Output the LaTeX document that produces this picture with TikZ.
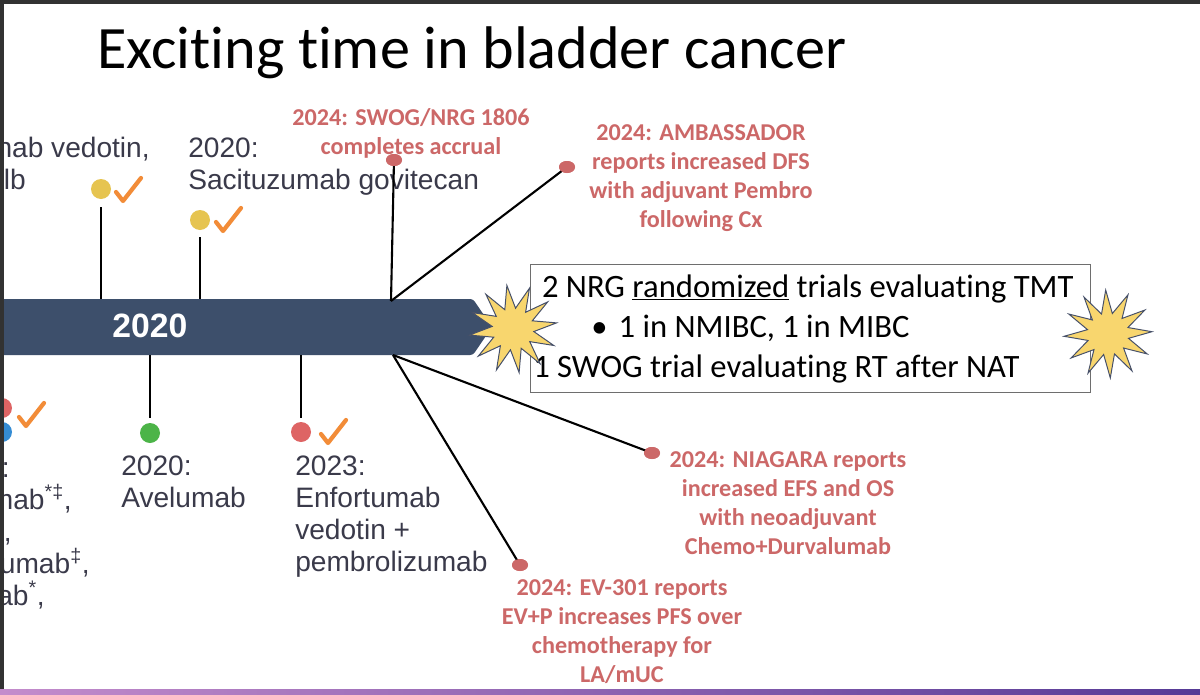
\documentclass[tikz,border=0pt]{standalone}
\usepackage{fontspec}
\setmainfont[Ligatures=NoCommon]{Carlito}
\newfontfamily\tlfont{Liberation Sans}
\usetikzlibrary{shapes.geometric,calc}

\definecolor{barblue}{RGB}{61,79,107}
\definecolor{annored}{RGB}{204,104,104}
\definecolor{tlgray}{RGB}{58,58,74}
\definecolor{dotyellow}{RGB}{230,196,80}
\definecolor{dotgreen}{RGB}{76,180,72}
\definecolor{dotred}{RGB}{222,100,100}
\definecolor{dotblue}{RGB}{52,140,212}
\definecolor{chkorange}{RGB}{242,140,56}
\definecolor{boomyellow}{RGB}{248,214,110}
\definecolor{boomedge}{RGB}{70,80,105}
\definecolor{framegray}{RGB}{50,50,50}
\definecolor{boxgray}{RGB}{110,110,110}

\begin{document}
\begin{tikzpicture}[x=0.25mm, y=-0.25mm,
    tick/.style={line width=1.5pt, black},
    mdot/.style={circle, inner sep=0pt, minimum size=5mm},
    adot/.style={ellipse, fill=annored, inner sep=0pt, minimum width=4mm, minimum height=3mm},
    tltext/.style={font=\tlfont\fontsize{20}{22.6}\selectfont, text=tlgray, align=left, inner sep=0pt},
    anno/.style={font=\bfseries\fontsize{17.2}{20.6}\selectfont, text=annored, align=center, inner sep=0pt},
    boom/.style={star, star points=12, star point ratio=2.1, fill=boomyellow, draw=boomedge, line width=0.7pt, minimum size=22mm, inner sep=0pt},
    chk/.pic={\draw[chkorange, line width=3pt, line cap=round, line join=round] (-12,2) -- (-5,11) -- (13,-12);}
]
\useasboundingbox (0,0) rectangle (1200,695);
\fill[white] (0,0) rectangle (1200,695);

% title
\node[anchor=west, inner sep=0pt, font=\fontsize{42.8}{50}\selectfont] (title) at (97,53) {Exciting time in bladder cancer};

% timeline bar
\fill[barblue, rounded corners=2pt] (0,299) -- (473,299) -- (492,327) -- (473,355) -- (0,355) -- cycle;
\node[font=\tlfont\bfseries\fontsize{24}{26}\selectfont, text=white] (yr) at (150,326) {2020};

% milestones on the bar
\coordinate (b1) at (101,299);
\coordinate (b2) at (200,299);
\coordinate (b3) at (150,355);
\coordinate (b4) at (301,355);
\node[mdot, fill=dotyellow] (d1) at (101,189) {};
\node[mdot, fill=dotyellow] (d2) at (200,220) {};
\node[mdot, fill=dotgreen] (d3) at (150,433) {};
\node[mdot, fill=dotred] (d4) at (301,432) {};
\node[mdot, fill=dotred] (d5) at (2,408) {};
\node[mdot, fill=dotblue] (d6) at (2,432) {};
\draw[tick, shorten >=2mm] (b1) -- (d1);
\draw[tick, shorten >=1.75mm] (b2) -- (d2);
\draw[tick, shorten >=1.25mm] (b3) -- (d3);
\draw[tick, shorten >=1mm] (b4) -- (d4);
\pic at (128,190) {chk};
\pic at (228,220) {chk};
\pic at (333,432) {chk};
\pic at (31,415) {chk};

% drug texts
\node[tltext, anchor=north west] (sacit) at (188,138) {2020:\\Sacituzumab govitecan};
\node[tltext, anchor=north west] (avel) at (121,456) {2020:\\Avelumab};
\node[tltext, anchor=north west] (enfor) at (295,456) {2023:\\Enfortumab\\vedotin +\\pembrolizumab};
\foreach \txt/\xr/\yb [count=\i] in {{nab vedotin,}/150/157, lb/26/189, :/10/477,
    {mab\textsuperscript{*‡},}/72/509, {),}/12/541, {umab\textsuperscript{‡},}/90/573, {ab\textsuperscript{*},}/45/605}
  \node[tltext, anchor=base east] (cut\i) at (\xr,\yb) {\txt};

% trials box
\node[draw=boxgray, line width=0.7pt, minimum width=140mm, minimum height=32mm, inner sep=0pt] (trials) at (810,328) {};
\node[anchor=west, align=left, inner sep=0pt, font=\fontsize{23.2}{28.45}\selectfont] (trialtxt) at (533,329)
  {\hspace{2.2mm}2 NRG \underline{randomized} trials evaluating TMT\\
   \hspace{14.5mm}\textbullet\hspace{2.8mm}1 in NMIBC, 1 in MIBC\\
   1 SWOG trial evaluating RT after NAT};
\node[boom, shape border rotate=8] (boom1) at (513,329) {};
\node[boom, shape border rotate=3] (boom2) at (1108,334) {};

% 2024 updates
\coordinate (hubtop) at (391,301);
\coordinate (hubbot) at (393,355);
\node[adot] (a1dot) at (394,160) {};
\node[adot] (a2dot) at (567,167) {};
\node[adot] (a3dot) at (652,453) {};
\node[adot] (a4dot) at (520,565) {};
\draw[tick] (hubtop) -- (a1dot.center);
\draw[tick] (hubtop) -- (a2dot.center);
\draw[tick] (hubbot) -- (a3dot.center);
\draw[tick] (hubbot) -- (a4dot.center);
\node[adot] at (a1dot) {};
\node[adot] at (a2dot) {};
\node[adot] at (a3dot) {};
\node[adot] at (a4dot) {};
\node[anno, anchor=north] (swog) at (411,108) {2024: SWOG/NRG 1806\\completes accrual};
\node[anno, anchor=north] (ambas) at (701,124) {2024: AMBASSADOR\\reports increased DFS\\with adjuvant Pembro\\following Cx};
\node[anno, anchor=north] (niag) at (788,451) {2024: NIAGARA reports\\increased EFS and OS\\with neoadjuvant\\Chemo+Durvalumab};
\node[anno, anchor=north] (ev301) at (622,579) {2024: EV-301 reports\\EV+P increases PFS over\\chemotherapy for\\LA/mUC};

% slide frame
\fill[framegray] (0,0) rectangle (1200,4);
\fill[framegray] (0,0) rectangle (4,689);
\shade[left color={rgb,255:red,196;green,140;blue,204}, right color={rgb,255:red,86;green,58;blue,150}] (0,689) rectangle (1200,695);
\end{tikzpicture}
\end{document}
